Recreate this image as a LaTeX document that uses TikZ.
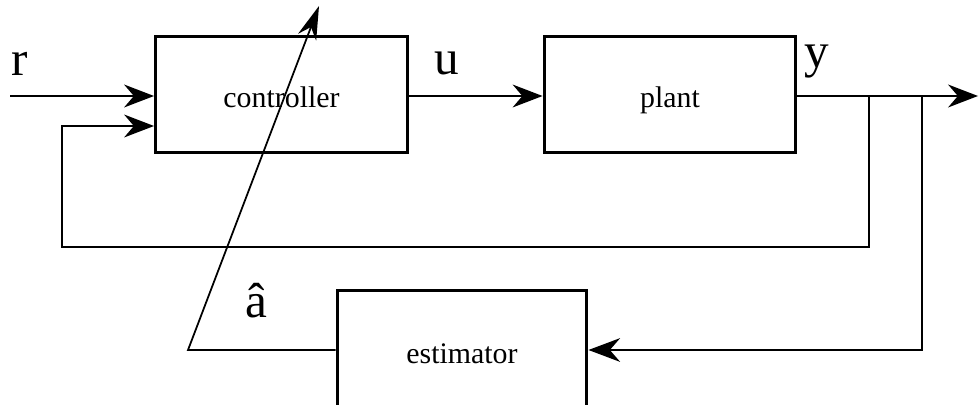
\documentclass[tikz,border=0pt]{standalone}
\usepackage{fontspec}
\setmainfont{Liberation Serif}
\usepackage{tikz}
\usetikzlibrary{arrows.meta}

\tikzset{
  block/.style={draw, line width=1.7pt, minimum width=5.04cm, minimum height=2.32cm, inner sep=0pt, text height=15pt, text depth=0pt, font=\fontsize{17}{20}\selectfont},
  sig/.style={line width=1.3pt, -{Stealth[length=17pt,width=13pt]}},
  thinsig/.style={line width=1pt},
  lbl/.style={anchor=base, inner sep=0pt, font=\fontsize{28}{32}\selectfont}
}

\begin{document}
\begin{tikzpicture}[x=0.02cm,y=-0.02cm]
         \useasboundingbox (0,0) rectangle (979,405);
         \clip (0,0) rectangle (979,405);
         \node[block] (ctrl) at (281.5,94.5) {controller};
         \node[block] (plant) at (670,94.5) {plant};
         \node[block, minimum width=5cm, minimum height=2.4cm] (est) at (462,350) {estimator};
         \coordinate (rin) at (10,96);
         \coordinate (fbin) at (62,126);
         \coordinate (loop) at (62,247);
         \coordinate (ybranch) at (869,96);
         \coordinate (ebranch) at (922,96);
         \coordinate (yout) at (978,96);
         \coordinate (corner) at (188,350);
         \coordinate (tip) at (319,6);
         \draw[sig] (rin) -- (rin -| ctrl.west);
         \draw[sig] (ctrl.east |- rin) -- (plant.west |- rin);
         \draw[sig] (plant.east |- rin) -- (yout);
         \draw[sig, line width=1.1pt] (ybranch) |- (loop) -- (fbin) -- (fbin -| ctrl.west);
         \draw[sig, line width=1.1pt, -{Stealth[length=18pt,width=13.5pt]}] (ebranch) |- (est.east);
         \draw[thinsig, -{Stealth[length=19pt,width=11pt]}] (est.west) -- (corner) -- (tip);
         \node[lbl] (rlbl) at (20,76) {r};
         \node[lbl] (ulbl) at (447,75) {u};
         \node[lbl] (ylbl) at (817,68) {y};
         \node[lbl] (albl) at (256,317) {â};
      \end{tikzpicture}
\end{document}
